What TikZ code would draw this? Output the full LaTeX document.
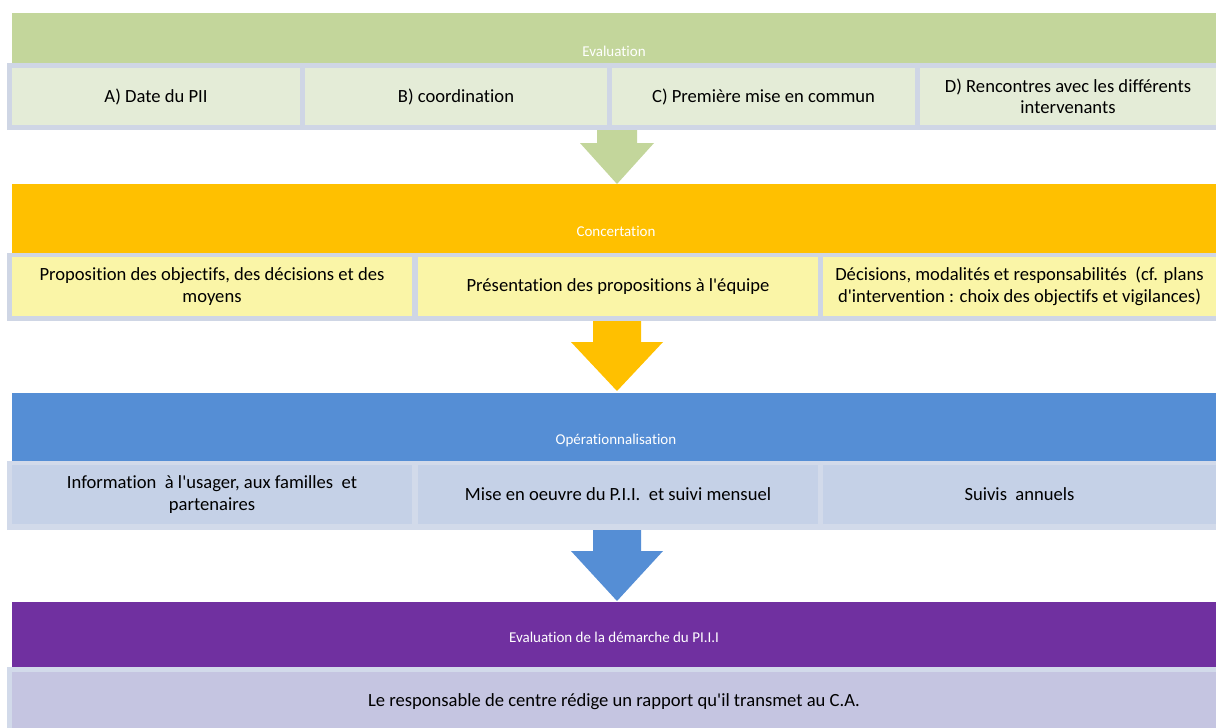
\documentclass[tikz,border=0pt]{standalone}
\usepackage{fontspec}
\setmainfont{Carlito}[Ligatures={NoCommon,TeXOff}]
\definecolor{cgreen}{HTML}{C3D69B}
\definecolor{cgreenbox}{HTML}{E4ECD7}
\definecolor{corange}{HTML}{FFC000}
\definecolor{cyellowbox}{HTML}{FAF5A7}
\definecolor{cblue}{HTML}{558ED5}
\definecolor{cbluebox}{HTML}{C5D1E7}
\definecolor{cpurple}{HTML}{7030A0}
\definecolor{clavbox}{HTML}{C5C5E1}
\definecolor{cframe}{HTML}{CFD6E5}
\definecolor{cframeb}{HTML}{D2DAEA}
\begin{document}
\begin{tikzpicture}[x=1pt,y=-1pt,
  band/.style={fill=#1, draw=none, anchor=north west, inner sep=0pt, minimum width=1204pt, minimum height=90pt},
  bandtext/.style={text=white, inner sep=0pt, font=\fontsize{15}{18}\selectfont},
  frame/.style={fill=#1, draw=none, anchor=north west, inner sep=0pt, minimum width=1215pt, minimum height=67pt},
  subbox/.style={fill=#1, draw=none, anchor=center, inner sep=0pt, align=center, font=\fontsize{18.6}{21.5}\selectfont},
  arrowfill/.style={fill=#1, draw=none}
]
\useasboundingbox (0,0) rectangle (1216,728);
\fill[white] (0,0) rectangle (1216,728);

% ---------- bands ----------
\node[band=cgreen]  (band1) at (12,13)  {};
\node[band=corange] (band2) at (12,184) {};
\node[band=cblue]   (band3) at (12,393) {};
\node[band=cpurple] (band4) at (12,602) {};

\node[bandtext] (h1) at (614,51)  {Evaluation};
\node[bandtext] (h2) at (616,231) {Concertation};
\node[bandtext] (h3) at (616,440) {Opérationnalisation};
\node[bandtext] (h4) at (614,637) {Evaluation de la démarche du PI.I.I};

% ---------- arrows ----------
\fill[arrowfill=cgreen]  (597,105) -- (637,105) -- (637,143) -- (654,143) -- (617,184) -- (580,143) -- (597,143) -- cycle;
\fill[arrowfill=corange] (593,300) -- (641,300) -- (641,342) -- (663,342) -- (617,391) -- (571,342) -- (593,342) -- cycle;
\fill[arrowfill=cblue]   (593,510) -- (641,510) -- (641,551) -- (663,551) -- (617,601) -- (571,551) -- (593,551) -- cycle;

% ---------- row 1 ----------
\node[frame=cframe] (f1) at (7,63) {};
\node[subbox=cgreenbox, minimum width=288pt, minimum height=57pt] (a1) at (156,96.5) {A) Date du PII};
\node[subbox=cgreenbox, minimum width=302pt, minimum height=57pt] (a2) at (456,96.5) {B) coordination};
\node[subbox=cgreenbox, minimum width=303pt, minimum height=57pt] (a3) at (763.5,96.5) {C) Première mise en commun};
\node[subbox=cgreenbox, minimum width=296pt, minimum height=57pt] (a4) at (1068,96.5) {D) Rencontres avec les différents\\intervenants};

% ---------- row 2 ----------
\node[frame=cframe, minimum height=68pt] (f2) at (7,253) {};
\node[subbox=cyellowbox, minimum width=400pt, minimum height=59pt] (b1) at (212,286.5) {Proposition des objectifs, des décisions et des\\moyens};
\node[subbox=cyellowbox, minimum width=400pt, minimum height=59pt] (b2) at (618,286.5) {Présentation des propositions à l'équipe};
\node[subbox=cyellowbox, minimum width=393pt, minimum height=59pt] (b3) at (1019.5,286.5) {Décisions, modalités et responsabilités~ (cf. plans\\d'intervention : choix des objectifs et vigilances)};

% ---------- row 3 ----------
\node[frame=cframeb, minimum height=69pt] (f3) at (7,461) {};
\node[subbox=cbluebox, minimum width=400pt, minimum height=59pt] (c1) at (212,494.5) {Information~ à l'usager, aux familles~ et\\partenaires};
\node[subbox=cbluebox, minimum width=400pt, minimum height=59pt] (c2) at (618,494.5) {Mise en oeuvre du P.I.I.~ et suivi mensuel};
\node[subbox=cbluebox, minimum width=393pt, minimum height=59pt] (c3) at (1019.5,494.5) {Suivis~ annuels};

% ---------- row 4 ----------
\node[frame=cframeb, minimum height=70pt] (f4) at (7,667) {};
\node[subbox=clavbox, minimum width=1204pt, minimum height=60pt] (d1) at (614,702) {Le responsable de centre rédige un rapport qu'il transmet au C.A.};
\end{tikzpicture}
\end{document}
